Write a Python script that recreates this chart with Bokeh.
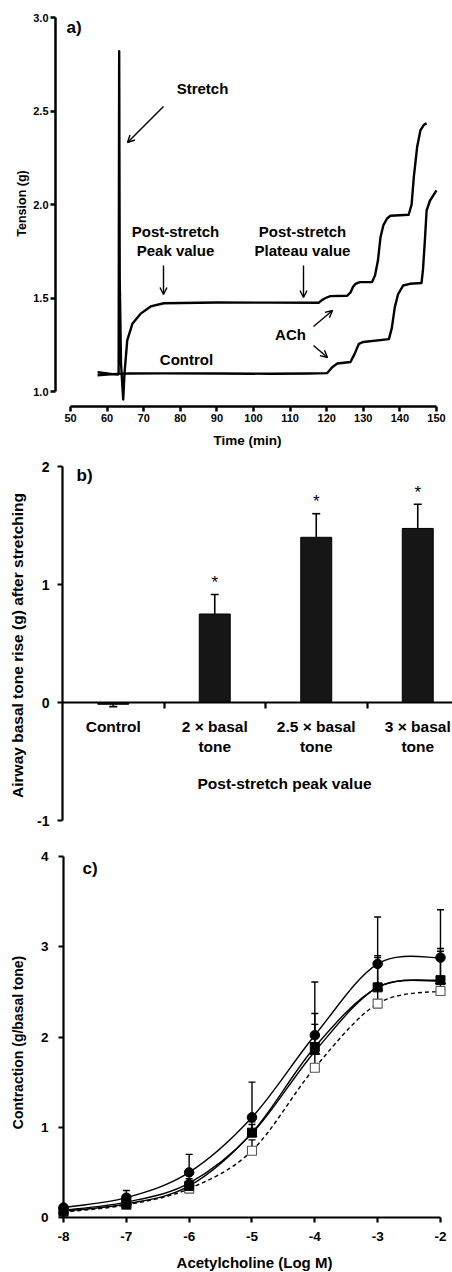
import numpy as np
from bokeh.plotting import figure
from bokeh.layouts import column
from bokeh.models import (LinearAxis, FixedTicker, Range1d, Label, Arrow, OpenHead,
                          NumeralTickFormatter)
from bokeh.embed import file_html
from bokeh.resources import INLINE
from bokeh.core.properties import value

FONT = "Liberation Sans"

# ---------------- panel a data (tension trace) ----------------
stretch_time = [57.4, 59.0, 61.0, 62.9, 63.15, 63.3, 63.45, 63.8, 64.4, 64.75, 65.5, 66.9,
                69.1, 71.9, 75.5, 90.0, 105.0, 117.8, 118.8, 119.7, 121.0, 125.6, 126.5,
                127.2, 127.9, 129.0, 132.4, 133.2, 134.0, 134.7, 135.5, 136.5, 137.4,
                142.4, 143.2, 143.8, 144.7, 145.6, 146.5, 147.3]
stretch_tension = [1.103, 1.099, 1.094, 1.090, 1.10, 2.82, 1.60, 1.15, 0.957, 1.095, 1.273, 1.362,
                   1.415, 1.455, 1.472, 1.476, 1.475, 1.475, 1.49, 1.50, 1.51, 1.512, 1.53,
                   1.56, 1.576, 1.585, 1.585, 1.62, 1.70, 1.825, 1.89, 1.925, 1.94,
                   1.945, 2.00, 2.146, 2.306, 2.396, 2.425, 2.435]
control_time = [57.4, 60.0, 62.9, 66.0, 75.0, 90.0, 105.0, 115.0, 120.1, 121.5, 122.9, 126.5,
                127.6, 128.8, 130.0, 137.0, 137.8, 138.6, 139.5, 140.9, 142.7, 145.9, 146.3,
                146.8, 147.3, 148.2, 150.0]
control_tension = [1.087, 1.091, 1.094, 1.096, 1.097, 1.096, 1.095, 1.096, 1.098, 1.13, 1.15, 1.158,
                   1.20, 1.255, 1.265, 1.28, 1.34, 1.45, 1.52, 1.567, 1.576, 1.58, 1.65,
                   1.80, 1.968, 2.02, 2.075]
a_x_ticks = [50, 60, 70, 80, 90, 100, 110, 120, 130, 140, 150]
a_y_ticks = [1.0, 1.5, 2.0, 2.5, 3.0]

# ---------------- panel b data ----------------
b_categories = ["Control", "2 × basal\ntone", "2.5 × basal\ntone", "3 × basal\ntone"]
b_means = [-0.015, 0.75, 1.40, 1.475]
b_sem = [0.02, 0.165, 0.20, 0.205]
b_significant = [False, True, True, True]
b_y_ticks = [-1, 0, 1, 2]

# ---------------- panel c data ----------------
c_log_ach = [-8, -7, -6, -5, -4, -3, -2]
c_circle = [0.11, 0.22, 0.50, 1.11, 2.02, 2.81, 2.88]
c_circle_sem = [0.02, 0.08, 0.20, 0.39, 0.59, 0.52, 0.53]
c_square = [0.07, 0.15, 0.35, 0.94, 1.89, 2.55, 2.63]
c_square_sem = [0.01, 0.04, 0.06, 0.12, 0.37, 0.35, 0.35]
c_triangle = [0.08, 0.17, 0.38, 0.93, 1.84, 2.55, 2.62]
c_triangle_sem = [0.01, 0.05, 0.05, 0.10, 0.30, 0.33, 0.33]
c_open = [0.06, 0.14, 0.32, 0.74, 1.66, 2.37, 2.51]
c_open_sem = [0.01, 0.02, 0.04, 0.12, 0.15, 0.15, 0.15]
c_x_ticks = [-8, -7, -6, -5, -4, -3, -2]
c_y_ticks = [0, 1, 2, 3, 4]

W = 452


class PixelMap:
    """Linear map from page pixels to data units for one panel (layout only)."""
    def __init__(self, top, x_px, x_val, x_scale, y_px, y_val, y_scale):
        self.top = top
        self.x_px, self.x_val, self.x_scale = x_px, x_val, x_scale
        self.y_px, self.y_val, self.y_scale = y_px, y_val, y_scale

    def x(self, px):
        return self.x_val + (px - self.x_px) / self.x_scale

    def y(self, py):
        return self.y_val + (self.y_px - py) / self.y_scale


def style_axis(ax, label_size, lw=2.0, tick_out=5, standoff=4):
    ax.axis_line_width = lw
    ax.axis_line_color = "black"
    ax.major_tick_line_width = lw
    ax.major_tick_line_color = "black"
    ax.major_tick_in = 0
    ax.major_tick_out = tick_out
    ax.minor_tick_in = 0
    ax.minor_tick_out = 0
    ax.major_label_text_font = FONT
    ax.major_label_text_font_style = "bold"
    ax.major_label_text_font_size = label_size
    ax.major_label_text_color = "black"
    ax.major_label_standoff = standoff


def panel(height, m, bottom):
    p = figure(width=W, height=height, output_backend="svg", toolbar_location=None,
               x_axis_location=None, y_axis_location=None,
               x_range=Range1d(m.x(0), m.x(W)),
               y_range=Range1d(m.y(m.top + height), m.y(m.top)),
               min_border=0, min_border_left=0, min_border_right=0,
               min_border_top=0, min_border_bottom=0)
    p.outline_line_color = None
    p.xgrid.visible = False
    p.ygrid.visible = False
    p.background_fill_color = "white"
    p.border_fill_color = "white"
    return p


def text_at(p, m, px, py, text, size, align="center", angle=0.0, bold=True):
    p.add_layout(Label(x=m.x(px), y=m.y(py), text=text, text_font=FONT,
                       text_font_style="bold" if bold else "normal",
                       text_font_size=size, text_align=align, text_baseline="middle",
                       text_color="black", angle=angle))


def arrow(p, m, px0, py0, px1, py1):
    p.add_layout(Arrow(end=OpenHead(size=7, line_width=1.4, line_color="black"),
                       x_start=m.x(px0), y_start=m.y(py0), x_end=m.x(px1), y_end=m.y(py1),
                       line_width=1.4, line_color="black"))


def spline(p, xs, ys, **kw):
    # Catmull-Rom curve through the points, drawn with Bokeh's bezier glyph
    x = np.asarray(xs, float)
    y = np.asarray(ys, float)
    xp = np.concatenate([[x[0]], x, [x[-1]]])
    yp = np.concatenate([[y[0]], y, [y[-1]]])
    cx0 = xp[1:-2] + (xp[2:-1] - xp[:-3]) / 6
    cy0 = yp[1:-2] + (yp[2:-1] - yp[:-3]) / 6
    cx1 = xp[2:-1] - (xp[3:] - xp[1:-2]) / 6
    cy1 = yp[2:-1] - (yp[3:] - yp[1:-2]) / 6
    p.bezier(x0=x[:-1], y0=y[:-1], x1=x[1:], y1=y[1:],
             cx0=cx0, cy0=cy0, cx1=cx1, cy1=cy1, **kw)


# ================= panel a =================
ma = PixelMap(top=0, x_px=70, x_val=50, x_scale=3.66, y_px=391, y_val=1.0, y_scale=187)
pa = panel(450, ma, None)

ax = LinearAxis(fixed_location=ma.y(406), bounds=(50, 150),
                ticker=FixedTicker(ticks=a_x_ticks, minor_ticks=[]),
                formatter=NumeralTickFormatter(format="0"))
style_axis(ax, "11px", lw=2.5, tick_out=5, standoff=2)
pa.add_layout(ax, "below")
ay = LinearAxis(fixed_location=ma.x(55), bounds=(1.0, 3.0),
                ticker=FixedTicker(ticks=a_y_ticks, minor_ticks=[]),
                formatter=NumeralTickFormatter(format="0.0"))
style_axis(ay, "11px", lw=2.5, tick_out=5, standoff=2)
pa.add_layout(ay, "left")

pa.line(control_time, control_tension, line_color="black", line_width=2.4, line_join="round")
pa.line(stretch_time, stretch_tension, line_color="black", line_width=2.4, line_join="round")

text_at(pa, ma, 247, 440, "Time (min)", "13.5px")
text_at(pa, ma, 21, 203, "Tension (g)", "12.5px", angle=np.pi / 2)
text_at(pa, ma, 66, 27, "a)", "17px", align="left")
text_at(pa, ma, 202, 88, "Stretch", "15px")
arrow(pa, ma, 163, 106, 127, 142)
text_at(pa, ma, 175, 231, "Post-stretch", "15px")
text_at(pa, ma, 175, 250, "Peak value", "15px")
arrow(pa, ma, 163, 265, 163, 294)
text_at(pa, ma, 302, 231, "Post-stretch", "15px")
text_at(pa, ma, 302, 250, "Plateau value", "15px")
arrow(pa, ma, 303, 265, 303, 297)
text_at(pa, ma, 186, 359, "Control", "15px")
text_at(pa, ma, 290, 334, "ACh", "15px")
arrow(pa, ma, 313, 326, 332, 310)
arrow(pa, ma, 313, 345, 327, 357)

# ================= panel b =================
mb = PixelMap(top=450, x_px=62, x_val=0.0, x_scale=101.5, y_px=702, y_val=0.0, y_scale=118)
pb = panel(390, mb, None)
n_b = len(b_categories)
centers = np.arange(n_b) + 0.5

by = LinearAxis(fixed_location=0, bounds=(-1, 2),
                ticker=FixedTicker(ticks=b_y_ticks, minor_ticks=[]),
                formatter=NumeralTickFormatter(format="0"))
style_axis(by, "14px", lw=2.2, tick_out=5, standoff=8)
pb.add_layout(by, "left")

boundaries = [float(v) for v in np.arange(1, n_b)]
bx = LinearAxis(fixed_location=0, bounds=(0, mb.x(W)),
                ticker=FixedTicker(ticks=boundaries, minor_ticks=[]),
                major_label_overrides={b: "" for b in boundaries})
style_axis(bx, "14px", lw=2.2, tick_out=6)
pb.add_layout(bx, "below")

bl = LinearAxis(fixed_location=0,
                ticker=FixedTicker(ticks=[float(c) for c in centers], minor_ticks=[]),
                major_label_overrides={float(c): lab for c, lab in zip(centers, b_categories)})
style_axis(bl, "15.5px", lw=0, tick_out=0, standoff=15)
bl.axis_line_color = None
bl.major_tick_line_color = None
pb.add_layout(bl, "below")

means = np.asarray(b_means)
sems = np.asarray(b_sem)
tips = means + np.where(means < 0, -1, 1) * sems
pb.vbar(x=centers, top=means, bottom=0, width=0.305, fill_color="#161616",
        line_color="black", line_width=1)
pb.segment(x0=centers, y0=means, x1=centers, y1=tips, line_color="black", line_width=1.6)
pb.scatter(x=centers, y=tips, marker="dash", size=8, line_color="black", line_width=1.6)
sig = np.asarray(b_significant)
pb.text(x=centers[sig], y=tips[sig], text=["*"] * int(sig.sum()), text_font=value(FONT),
        text_font_size="17px", text_align="center", text_baseline="middle", y_offset=-12,
        text_color="black")

text_at(pb, mb, 76, 475, "b)", "17px", align="left")
text_at(pb, mb, 284, 783, "Post-stretch peak value", "15.5px")
text_at(pb, mb, 17, 645, "Airway basal tone rise (g) after stretching", "15.5px",
        angle=np.pi / 2)

# ================= panel c =================
mc = PixelMap(top=840, x_px=63, x_val=-8.0, x_scale=62.83, y_px=1217, y_val=0.0, y_scale=90.25)
pc = panel(432, mc, None)
cxa = LinearAxis(fixed_location=0, bounds=(-8, -2),
                 ticker=FixedTicker(ticks=c_x_ticks, minor_ticks=[]),
                 formatter=NumeralTickFormatter(format="0"))
style_axis(cxa, "13.5px", lw=2.2, tick_out=5, standoff=9)
pc.add_layout(cxa, "below")
cya = LinearAxis(fixed_location=-8, bounds=(0, 4),
                 ticker=FixedTicker(ticks=c_y_ticks, minor_ticks=[]),
                 formatter=NumeralTickFormatter(format="0"))
style_axis(cya, "13.5px", lw=2.2, tick_out=5, standoff=10)
pc.add_layout(cya, "left")

series = [
    (c_circle, c_circle_sem, "solid"),
    (c_square, c_square_sem, "solid"),
    (c_triangle, c_triangle_sem, "solid"),
    (c_open, c_open_sem, "4 3"),
]
for vals, _, dash in series:
    spline(pc, c_log_ach, vals, line_color="black", line_width=1.4, line_dash=dash)
for vals, err, _ in series:
    top = np.asarray(vals) + np.asarray(err)
    pc.segment(x0=c_log_ach, y0=vals, x1=c_log_ach, y1=top, line_color="black", line_width=1.4)
    pc.scatter(x=c_log_ach, y=top, marker="dash", size=7, line_color="black", line_width=1.4)

pc.scatter(x=c_log_ach, y=c_open, marker="square", size=9, fill_color="white",
           line_color="#555555", line_width=1.1)
pc.scatter(x=c_log_ach, y=c_triangle, marker="triangle", size=10, fill_color="black",
           line_color="black")
pc.scatter(x=c_log_ach, y=c_square, marker="square", size=9, fill_color="black",
           line_color="black")
pc.scatter(x=c_log_ach, y=c_circle, marker="circle", size=9.5, fill_color="black",
           line_color="black")

text_at(pc, mc, 82, 868, "c)", "17px", align="left")
text_at(pc, mc, 254, 1262, "Acetylcholine (Log M)", "15px")
text_at(pc, mc, 17, 1042, "Contraction (g/basal tone)", "14px", angle=np.pi / 2)

layout = column(pa, pb, pc)
open("out.html", "w").write(file_html(layout, INLINE))
